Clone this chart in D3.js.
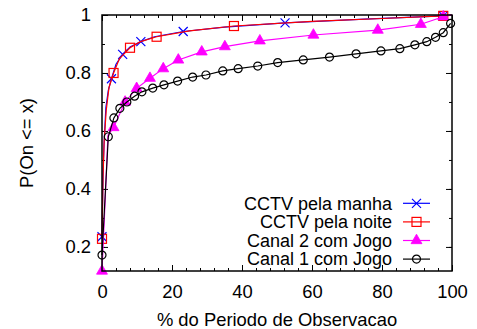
<!DOCTYPE html>
<html>
<head>
<meta charset="utf-8">
<script src="https://cdn.jsdelivr.net/npm/d3@7"></script>
<style>
  body { margin: 0; background: #fff; }
  svg text { font-family: "Liberation Sans", Arial, Helvetica, sans-serif; font-size: 18.4px; fill: #000; }
  svg .legend text { font-size: 18px; }
</style>
</head>
<body>
<svg id="chart" width="477" height="329"></svg>
<script>
"use strict";

// values: x = % do periodo, y = P(On <= x)
let xTicks = [0, 20, 40, 60, 80, 100];
let yTicks = [0.2, 0.4, 0.6, 0.8, 1];
let seriesNames = ["CCTV pela manha", "CCTV pela noite", "Canal 2 com Jogo", "Canal 1 com Jogo"];

let manhaLine = [[0, 0.235], [0.3, 0.45], [0.6, 0.56], [1.1, 0.68], [1.8, 0.74], [2.7, 0.78], [4, 0.83], [5.9, 0.864],
  [8, 0.89], [11.1, 0.908], [15, 0.925], [23.2, 0.943], [35, 0.958], [52.3, 0.973], [75, 0.986], [97.5, 0.997], [100, 1]];
let manhaMarks = [[0, 0.235], [2.7, 0.78], [5.9, 0.864], [11.1, 0.908], [23.2, 0.943], [52.3, 0.973], [97.5, 0.997]];

let noiteLine = [[0, 0.228], [0.3, 0.44], [0.6, 0.56], [1.2, 0.67], [2, 0.75], [3.3, 0.80], [5, 0.85], [8, 0.887],
  [11, 0.908], [15.6, 0.925], [25, 0.945], [37.7, 0.962], [60, 0.978], [80, 0.988], [97.5, 0.997], [100, 1]];
let noiteMarks = [[0, 0.228], [3.3, 0.80], [8, 0.887], [15.6, 0.925], [37.7, 0.962], [97.5, 0.997]];

let canal2Line = [[0, 0.117], [0.9, 0.36], [1.7, 0.585], [3.3, 0.612], [6.6, 0.70], [9.9, 0.747], [13.7, 0.782],
  [17.5, 0.815], [21.8, 0.845], [28.5, 0.873], [35.1, 0.891], [45.1, 0.911], [60.4, 0.931], [78.8, 0.948],
  [91.1, 0.968], [97.5, 0.994], [100, 1]];
let canal2Marks = [[0, 0.117], [3.3, 0.612], [6.6, 0.70], [9.9, 0.747], [13.7, 0.782], [17.5, 0.815], [21.8, 0.845],
  [28.5, 0.873], [35.1, 0.891], [45.1, 0.911], [60.4, 0.931], [78.8, 0.948], [91.1, 0.968], [97.5, 0.994]];

let canal1Line = [[0, 0.172], [1.8, 0.58], [3.4, 0.645], [5.1, 0.678], [7.1, 0.70], [9.3, 0.72], [11.4, 0.735],
  [14.5, 0.748], [17.7, 0.759], [21.6, 0.772], [25.9, 0.786], [29.7, 0.793], [34.5, 0.807], [38.9, 0.815],
  [44.5, 0.824], [50.2, 0.836], [57.5, 0.845], [65, 0.855], [72.6, 0.866], [79.7, 0.876], [85.1, 0.884],
  [89.4, 0.897], [92.8, 0.908], [95.3, 0.923], [97.5, 0.939], [99.6, 0.971]];
let canal1Marks = canal1Line;

let colors = ["#0000ff", "#ff0000", "#ff00ff", "#000000"];
let markTypes = ["cross", "square", "triangle", "circle"];

function drawMark(g, type, color) {
  if (type === "cross") {
    g.append("path").attr("d", "M-4.5,-4.5L4.5,4.5M-4.5,4.5L4.5,-4.5")
      .attr("stroke", color).attr("stroke-width", 1.2).attr("fill", "none");
  } else if (type === "square") {
    g.append("rect").attr("x", -4.5).attr("y", -4.5).attr("width", 9).attr("height", 9)
      .attr("stroke", color).attr("stroke-width", 1.2).attr("fill", "none");
  } else if (type === "triangle") {
    g.append("path").attr("d", d3.symbol(d3.symbolTriangle, 52)())
      .attr("fill", color).attr("stroke", color).attr("stroke-width", 0.8);
  } else {
    g.append("circle").attr("r", 4)
      .attr("stroke", color).attr("stroke-width", 1.2).attr("fill", "none");
  }
}

function pageInit() {
  let svg = d3.select("#chart");
  let left = 102, right = 452, top = 15, bottom = 271;

  let x = d3.scaleLinear().domain([0, 100]).range([left, right]);
  let y = d3.scaleLinear().domain([0.117, 1]).range([bottom, top]);

  // minor ticks (all four sides, pointing inward)
  let xMinor = d3.range(0, 101, 4);
  let yMinor = d3.range(2, 11).map(v => v / 10);
  svg.append("g").attr("transform", `translate(0,${bottom})`)
    .call(d3.axisBottom(x).tickValues(xMinor).tickSize(-3).tickFormat(""));
  svg.append("g").attr("transform", `translate(0,${top})`)
    .call(d3.axisTop(x).tickValues(xMinor).tickSize(-3).tickFormat(""));
  svg.append("g").attr("transform", `translate(${left},0)`)
    .call(d3.axisLeft(y).tickValues(yMinor).tickSize(-3).tickFormat(""));
  svg.append("g").attr("transform", `translate(${right},0)`)
    .call(d3.axisRight(y).tickValues(yMinor).tickSize(-3).tickFormat(""));

  // major ticks with labels
  svg.append("g").attr("transform", `translate(0,${bottom})`)
    .call(d3.axisBottom(x).tickValues(xTicks).tickSize(-6).tickPadding(14).tickFormat(d3.format("d")));
  svg.append("g").attr("transform", `translate(0,${top})`)
    .call(d3.axisTop(x).tickValues(xTicks).tickSize(-6).tickFormat(""));
  svg.append("g").attr("transform", `translate(${left},0)`)
    .call(d3.axisLeft(y).tickValues(yTicks).tickSize(-6).tickPadding(11).tickFormat(d => d === 1 ? "1" : d3.format(".1f")(d)));
  svg.append("g").attr("transform", `translate(${right},0)`)
    .call(d3.axisRight(y).tickValues(yTicks).tickSize(-6).tickFormat(""));

  svg.selectAll(".domain").remove();
  svg.selectAll(".tick line").attr("stroke", "#000").attr("stroke-width", 1);
  svg.selectAll(".tick text").style("font-size", "18.4px").attr("fill", "#000");

  let line = d3.line().x(d => x(d[0])).y(d => y(d[1]));
  let lines = [manhaLine, noiteLine, canal2Line, canal1Line];
  let marks = [manhaMarks, noiteMarks, canal2Marks, canal1Marks];

  let plot = svg.append("g");
  lines.forEach((pts, i) => {
    plot.append("path").datum(pts)
      .attr("d", line)
      .attr("fill", "none")
      .attr("stroke", colors[i])
      .attr("stroke-width", 1.2);
    plot.selectAll(null).data(marks[i]).enter().append("g")
      .attr("transform", d => `translate(${x(d[0])},${y(d[1])})`)
      .each(function () { drawMark(d3.select(this), markTypes[i], colors[i]); });
  });

  // frame
  svg.append("rect")
    .attr("x", left).attr("y", top)
    .attr("width", right - left).attr("height", bottom - top)
    .attr("fill", "none").attr("stroke", "#000").attr("stroke-width", 1.5);

  // legend
  let legend = svg.append("g").attr("class", "legend")
    .selectAll("g").data(seriesNames).enter().append("g")
    .attr("transform", (d, i) => `translate(0,${203.3 + i * 18.6})`);
  legend.append("text")
    .attr("x", 392).attr("y", 6.3)
    .attr("text-anchor", "end")
    .text(d => d);
  legend.append("line")
    .attr("x1", 403).attr("x2", 430)
    .attr("stroke", (d, i) => colors[i]).attr("stroke-width", 1.2);
  legend.append("g")
    .attr("transform", "translate(416.5,0)")
    .each(function (d, i) { drawMark(d3.select(this), markTypes[i], colors[i]); });

  // axis titles
  svg.append("text")
    .attr("x", (left + right) / 2).attr("y", 326)
    .attr("text-anchor", "middle")
    .text("% do Periodo de Observacao");
  svg.append("text")
    .attr("transform", `translate(33,${(top + bottom) / 2}) rotate(-90)`)
    .attr("text-anchor", "middle")
    .text("P(On <= x)");
}

pageInit();
</script>
</body>
</html>
